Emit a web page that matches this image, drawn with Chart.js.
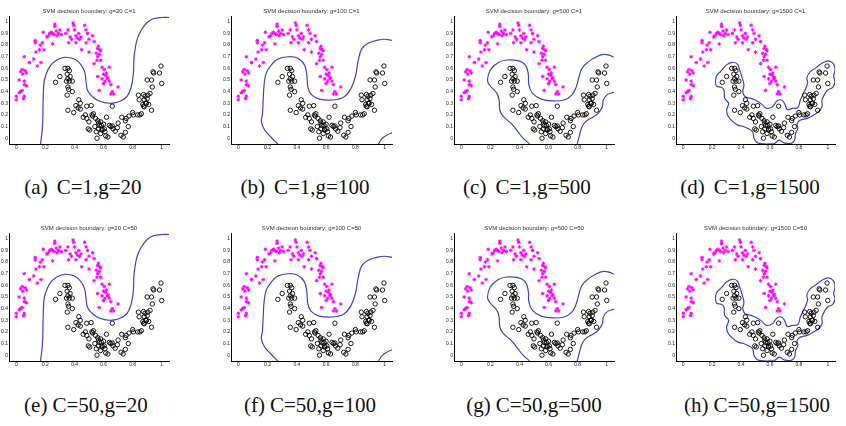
<!DOCTYPE html>
<html>
<head>
<meta charset="utf-8">
<script src="https://cdn.jsdelivr.net/npm/chart.js@4/dist/chart.umd.min.js"></script>
<style>
  body { margin: 0; background: #fff; }
  #fig { position: relative; width: 846px; height: 426px; overflow: hidden; }
  canvas { position: absolute; }
  .cap { position: absolute; font-family: "Liberation Serif", "DejaVu Serif", serif; font-size: 21px; line-height: 24px; color: #111; white-space: nowrap; transform: translateX(-50%); }
</style>
</head>
<body>
<div id="fig"></div>
<script>
// two moons data (same in every panel)
const upperMoon = [
  [0.0,0.36],[0.0,0.33],[0.02,0.39],[0.03,0.40],[0.05,0.34],[0.055,0.36],[0.04,0.41],[0.055,0.46],
  [0.07,0.45],[0.02,0.50],[0.03,0.57],[0.04,0.59],[0.06,0.58],[0.07,0.56],[0.045,0.55],[0.055,0.49],
  [0.055,0.70],[0.09,0.65],[0.12,0.68],[0.145,0.62],[0.17,0.65],[0.13,0.82],[0.13,0.84],[0.135,0.74],
  [0.165,0.80],[0.18,0.82],[0.16,0.76],[0.19,0.76],[0.185,0.91],[0.21,0.87],[0.23,0.90],[0.24,0.91],
  [0.25,0.90],[0.265,0.96],[0.265,0.98],[0.275,0.92],[0.29,0.90],[0.30,0.93],[0.31,0.89],[0.25,0.81],
  [0.34,0.90],[0.355,0.93],[0.37,0.87],[0.39,0.99],[0.395,0.97],[0.40,0.93],[0.41,0.88],[0.42,0.86],
  [0.43,0.90],[0.445,0.87],[0.41,0.82],[0.435,0.85],[0.47,0.97],[0.48,0.93],[0.49,0.90],[0.50,0.85],
  [0.525,0.88],[0.48,0.82],[0.535,0.83],[0.56,0.77],[0.565,0.79],[0.575,0.76],[0.55,0.73],[0.56,0.70],
  [0.555,0.67],[0.57,0.72],[0.535,0.64],[0.58,0.67],[0.59,0.61],[0.605,0.59],[0.615,0.54],[0.625,0.51],
  [0.56,0.53],[0.59,0.51],[0.61,0.49],[0.64,0.49],[0.65,0.46],[0.57,0.41],[0.66,0.40],[0.67,0.38],
  [0.70,0.44],[0.64,0.61],[0.50,0.74],[0.45,0.76],[0.28,0.88],[0.26,0.89],[0.22,0.88],[0.36,0.82],
  [0.38,0.85],[0.58,0.75],[0.60,0.55],[0.62,0.56],[0.63,0.52],[0.65,0.38],[0.60,0.47]
];
const lowerMoon = [
  [0.27,0.48],[0.30,0.53],[0.335,0.60],[0.355,0.60],[0.365,0.58],[0.35,0.55],[0.37,0.53],[0.355,0.51],
  [0.365,0.49],[0.385,0.49],[0.345,0.49],[0.355,0.44],[0.36,0.42],[0.385,0.40],[0.35,0.37],[0.43,0.33],
  [0.44,0.30],[0.41,0.28],[0.425,0.26],[0.395,0.22],[0.355,0.24],[0.44,0.25],[0.475,0.20],[0.46,0.18],
  [0.485,0.17],[0.515,0.28],[0.50,0.14],[0.495,0.08],[0.505,0.07],[0.52,0.20],[0.525,0.19],[0.545,0.17],
  [0.565,0.13],[0.57,0.11],[0.58,0.14],[0.585,0.11],[0.565,0.08],[0.55,0.055],[0.555,0.0],[0.58,0.04],
  [0.59,0.07],[0.605,0.08],[0.61,0.055],[0.62,0.18],[0.615,0.02],[0.63,0.01],[0.65,0.10],[0.66,0.105],
  [0.665,0.08],[0.66,0.275],[0.68,0.06],[0.695,0.09],[0.72,0.025],[0.735,0.01],[0.70,0.13],[0.725,0.18],
  [0.75,0.15],[0.755,0.17],[0.77,0.10],[0.775,0.19],[0.80,0.22],[0.805,0.20],[0.835,0.20],[0.85,0.20],
  [0.86,0.21],[0.84,0.37],[0.845,0.33],[0.875,0.375],[0.885,0.36],[0.88,0.33],[0.89,0.30],[0.90,0.34],
  [0.905,0.37],[0.92,0.385],[0.935,0.44],[0.90,0.50],[0.93,0.50],[0.945,0.56],[0.985,0.56],[0.995,0.62],
  [1.0,0.47],[0.93,0.24],[0.875,0.275],[0.88,0.27],[0.895,0.30],[0.485,0.275],[0.56,0.15],[0.60,0.12],
  [0.59,0.08],[0.64,0.11],[0.54,0.10],[0.53,0.21],[0.75,0.05],[0.94,0.57],[0.87,0.29],[0.91,0.29]
];

// decision boundaries, one set per gamma
const boundary20 = [[
  [0.167,-0.05],[0.18,0.10],[0.185,0.33],[0.19,0.47],[0.20,0.53],[0.23,0.615],[0.276,0.67],[0.33,0.695],
  [0.40,0.68],[0.445,0.63],[0.47,0.57],[0.48,0.485],[0.49,0.41],[0.525,0.356],[0.57,0.32],[0.64,0.30],
  [0.705,0.313],[0.76,0.356],[0.79,0.44],[0.805,0.557],[0.81,0.70],[0.83,0.845],[0.86,0.93],[0.90,0.994],
  [0.943,1.026],[1.0,1.037],[1.05,1.037]
]];
const boundary100 = [[
  [0.27,-0.05],[0.226,0.006],[0.18,0.07],[0.158,0.14],[0.165,0.21],[0.17,0.33],[0.176,0.457],[0.19,0.557],
  [0.226,0.63],[0.27,0.68],[0.34,0.70],[0.407,0.687],[0.452,0.63],[0.468,0.543],[0.475,0.44],[0.498,0.376],
  [0.554,0.336],[0.645,0.328],[0.724,0.356],[0.77,0.428],[0.80,0.53],[0.82,0.67],[0.844,0.77],[0.894,0.82],
  [0.96,0.845],[1.0,0.85],[1.05,0.84]
], [
  [0.957,-0.05],[0.985,0.0],[1.02,0.03],[1.05,0.046]
]];
const boundary500 = [[
  [0.47,-0.05],[0.425,0.0],[0.39,0.055],[0.345,0.125],[0.29,0.185],[0.265,0.24],[0.26,0.33],[0.245,0.385],
  [0.195,0.455],[0.18,0.50],[0.20,0.586],[0.255,0.65],[0.31,0.672],[0.39,0.666],[0.44,0.63],[0.46,0.557],
  [0.465,0.457],[0.49,0.385],[0.55,0.336],[0.63,0.32],[0.707,0.328],[0.76,0.37],[0.79,0.44],[0.81,0.53],
  [0.83,0.60],[0.876,0.658],[0.93,0.70],[0.977,0.72],[1.01,0.716],[1.05,0.695]
], [
  [0.797,-0.05],[0.81,0.011],[0.826,0.083],[0.853,0.14],[0.91,0.184],[0.944,0.218],[0.97,0.27],[0.977,0.328],
  [1.0,0.37],[1.034,0.39],[1.05,0.394]
]];
const boundary1500 = [[
  [0.223,0.486],[0.23,0.535],[0.264,0.58],[0.30,0.63],[0.337,0.652],[0.374,0.638],[0.39,0.586],[0.405,0.53],
  [0.42,0.457],[0.412,0.40],[0.428,0.356],[0.47,0.342],[0.52,0.313],[0.55,0.284],[0.578,0.256],[0.617,0.27],
  [0.65,0.322],[0.68,0.328],[0.70,0.30],[0.72,0.247],[0.754,0.256],[0.793,0.264],[0.81,0.328],[0.834,0.39],
  [0.86,0.47],[0.856,0.523],[0.88,0.572],[0.913,0.60],[0.96,0.644],[1.005,0.664],[1.04,0.638],[1.05,0.586],
  [1.04,0.53],[1.05,0.486],[1.034,0.437],[0.998,0.414],[0.975,0.37],[0.96,0.328],[0.96,0.27],[0.936,0.227],
  [0.90,0.198],[0.857,0.17],[0.81,0.155],[0.788,0.126],[0.793,0.083],[0.777,0.04],[0.77,-0.017],[0.743,-0.046],
  [0.697,-0.04],[0.663,-0.017],[0.63,-0.046],[0.572,-0.05],[0.515,-0.04],[0.49,-0.003],[0.48,0.055],[0.447,0.083],
  [0.412,0.103],[0.378,0.112],[0.337,0.15],[0.31,0.19],[0.30,0.24],[0.314,0.30],[0.287,0.342],[0.282,0.414],
  [0.264,0.437],[0.23,0.448],[0.223,0.486]
]];

const tickX = [0, 0.2, 0.4, 0.6, 0.8, 1];
const tickY = [0, 0.1, 0.2, 0.3, 0.4, 0.5, 0.6, 0.7, 0.8, 0.9, 1];

const titles = [
  'SVM decision boundary: g=20 C=1', 'SVM decision boundary: g=100 C=1',
  'SVM decision boundary: g=500 C=1', 'SVM decision boundary: g=1500 C=1',
  'SVM decision boundary: g=20 C=50', 'SVM decision boundary: g=100 C=50',
  'SVM decision boundary: g=500 C=50', 'SVM decision boundary: g=1500 C=50'
];
const captions = [
  ['(a)', 'C=1,g=20'], ['(b)', 'C=1,g=100'], ['(c)', 'C=1,g=500'], ['(d)', 'C=1,g=1500'],
  ['(e)', 'C=50,g=20'], ['(f)', 'C=50,g=100'], ['(g)', 'C=50,g=500'], ['(h)', 'C=50,g=1500']
];
const boundaries = [boundary20, boundary100, boundary500, boundary1500,
                    boundary20, boundary100, boundary500, boundary1500];

// plot area of each panel in page pixels
const cols = [[9, 170], [231, 393], [454, 615], [676, 836]];
const rows = [[16, 144], [233, 361]];
const capX = [83, 305, 527, 750, 86, 310, 534, 757];
const capY = [187, 405];

const fig = document.getElementById('fig');

const titlePlugin = {
  id: 'panelTitle',
  afterDraw(chart) {
    const ca = chart.chartArea;
    const ctx = chart.ctx;
    ctx.save();
    ctx.font = '6px "Liberation Sans", Arial, sans-serif';
    ctx.fillStyle = '#333';
    ctx.textAlign = 'center';
    ctx.textBaseline = 'middle';
    ctx.fillText(chart.options.plugins.panelTitle.text, (ca.left + ca.right) / 2, ca.top - 5);
    ctx.restore();
  }
};

for (let i = 0; i < 8; i++) {
  const [L, R] = cols[i % 4];
  const [T, B] = rows[Math.floor(i / 4)];
  const cv = document.createElement('canvas');
  cv.width = R - L + 26;
  cv.height = B - T + 28;
  cv.style.left = (L - 22) + 'px';
  cv.style.top = (T - 16) + 'px';
  fig.appendChild(cv);

  const datasets = [{
    label: 'class 1',
    data: upperMoon.map(p => ({x: p[0], y: p[1]})),
    pointStyle: 'star',
    pointRadius: 1.8,
    borderColor: '#ff00ff',
    backgroundColor: '#ff00ff',
    borderWidth: 1
  }, {
    label: 'class 2',
    data: lowerMoon.map(p => ({x: p[0], y: p[1]})),
    pointStyle: 'circle',
    pointRadius: 2.2,
    borderColor: '#000',
    backgroundColor: 'rgba(0,0,0,0)',
    borderWidth: 0.9
  }];
  boundaries[i].forEach(seg => datasets.push({
    label: 'boundary',
    data: seg.map(p => ({x: p[0], y: p[1]})),
    showLine: true,
    pointRadius: 0,
    borderColor: '#4040c8',
    borderWidth: 1.2,
    tension: 0.4
  }));

  new Chart(cv, {
    type: 'scatter',
    data: { datasets: datasets },
    options: {
      responsive: false,
      animation: false,
      layout: { padding: { left: 0, right: 4, top: 16, bottom: 0 } },
      plugins: {
        legend: { display: false },
        tooltip: { enabled: false },
        panelTitle: { text: titles[i] }
      },
      scales: {
        x: {
          type: 'linear', min: -0.05, max: 1.05,
          afterBuildTicks: s => { s.ticks = tickX.map(v => ({value: v})); },
          afterFit: s => { s.height = 12; },
          grid: { display: false, drawTicks: false },
          border: { display: true, color: '#000', width: 1 },
          ticks: { font: { size: 5, family: 'Liberation Sans' }, color: '#222', padding: 1, maxRotation: 0, autoSkip: false, callback: v => String(v) }
        },
        y: {
          type: 'linear', min: -0.05, max: 1.05,
          afterBuildTicks: s => { s.ticks = tickY.map(v => ({value: v})); },
          afterFit: s => { s.width = 22; },
          grid: { display: false, drawTicks: false },
          border: { display: true, color: '#000', width: 1 },
          ticks: { font: { size: 5, family: 'Liberation Sans' }, color: '#222', padding: 1, autoSkip: false, callback: v => String(v) }
        }
      }
    },
    plugins: [titlePlugin]
  });

  const cap = document.createElement('div');
  cap.className = 'cap';
  cap.style.left = capX[i] + 'px';
  cap.style.top = (capY[Math.floor(i / 4)] - 12) + 'px';
  const gap = i < 4 ? '9px' : '5px';
  cap.innerHTML = captions[i][0] + '<span style="margin-left:' + gap + '">' + captions[i][1] + '</span>';
  fig.appendChild(cap);
}
</script>
</body>
</html>
